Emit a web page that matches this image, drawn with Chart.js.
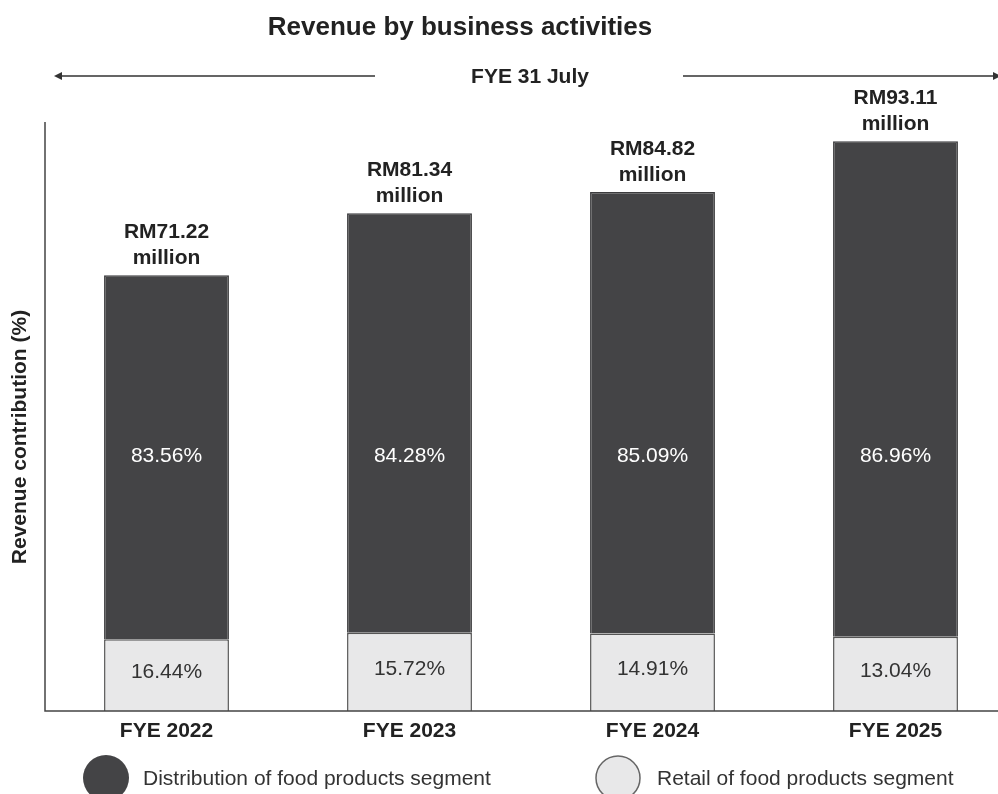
<!DOCTYPE html>
<html>
<head>
<meta charset="utf-8">
<title>Revenue by business activities</title>
<script src="https://cdn.jsdelivr.net/npm/chart.js@4.4.1/dist/chart.umd.min.js"></script>
<style>
  html, body { margin: 0; padding: 0; background: #fff; overflow: hidden; }
  #grafico { display: block; }
</style>
</head>
<body>
<canvas id="grafico" width="1030" height="794"></canvas>
<script>
// datos
const categorias = ["FYE 2022", "FYE 2023", "FYE 2024", "FYE 2025"];
const totales = [71.22, 81.34, 84.82, 93.11]; // RM million
const pctDistribucion = [83.56, 84.28, 85.09, 86.96];
const pctRetail = [16.44, 15.72, 14.91, 13.04];

const etiquetasTotal = ["RM71.22", "RM81.34", "RM84.82", "RM93.11"];

// valor en RM de cada segmento
const valRetail = totales.map((t, i) => t * pctRetail[i] / 100);
const valDistribucion = totales.map((t, i) => t * pctDistribucion[i] / 100);

const FUENTE = "'Liberation Sans', Arial, sans-serif";
const OSCURO = "#444446";
const CLARO = "#e8e8e9";

const extras = {
  id: "extras",
  afterDatasetsDraw(chart) {
    const { ctx, chartArea, scales } = chart;
    ctx.save();
    ctx.textAlign = "center";
    ctx.textBaseline = "middle";

    // titulo
    ctx.fillStyle = "#222";
    ctx.font = "bold 26px " + FUENTE;
    ctx.fillText("Revenue by business activities", 460, 28);

    // FYE 31 July con flechas
    ctx.font = "bold 21px " + FUENTE;
    ctx.fillText("FYE 31 July", 530, 77);
    ctx.strokeStyle = "#333";
    ctx.fillStyle = "#333";
    ctx.lineWidth = 1.5;
    ctx.beginPath();
    ctx.moveTo(58, 76); ctx.lineTo(375, 76);
    ctx.moveTo(683, 76); ctx.lineTo(994, 76);
    ctx.stroke();
    ctx.beginPath();
    ctx.moveTo(54, 76); ctx.lineTo(62, 72); ctx.lineTo(62, 80); ctx.closePath();
    ctx.fill();
    ctx.beginPath();
    ctx.moveTo(1001, 76); ctx.lineTo(993, 72); ctx.lineTo(993, 80); ctx.closePath();
    ctx.fill();

    // ejes
    ctx.strokeStyle = "#444";
    ctx.lineWidth = 1.5;
    ctx.beginPath();
    ctx.moveTo(chartArea.left, 122);
    ctx.lineTo(chartArea.left, chartArea.bottom);
    ctx.lineTo(1030, chartArea.bottom);
    ctx.stroke();

    // titulo eje y
    ctx.save();
    ctx.translate(20, 437);
    ctx.rotate(-Math.PI / 2);
    ctx.fillStyle = "#222";
    ctx.font = "bold 21px " + FUENTE;
    ctx.fillText("Revenue contribution (%)", 0, 0);
    ctx.restore();

    // etiquetas dentro de las barras
    const metaRetail = chart.getDatasetMeta(0);
    const metaDist = chart.getDatasetMeta(1);
    ctx.font = "21px " + FUENTE;
    metaRetail.data.forEach((bar, i) => {
      ctx.fillStyle = "#333";
      ctx.fillText(pctRetail[i].toFixed(2) + "%", bar.x, (bar.y + bar.base) / 2 - 3);
    });
    metaDist.data.forEach((bar, i) => {
      ctx.fillStyle = "#fff";
      ctx.fillText(pctDistribucion[i].toFixed(2) + "%", bar.x, 456);
      // total encima de la barra
      ctx.fillStyle = "#222";
      ctx.font = "bold 21px " + FUENTE;
      ctx.fillText(etiquetasTotal[i], bar.x, bar.y - 43);
      ctx.fillText("million", bar.x, bar.y - 17);
      ctx.font = "21px " + FUENTE;
    });

    // etiquetas eje x
    ctx.fillStyle = "#222";
    ctx.font = "bold 21px " + FUENTE;
    categorias.forEach((c, i) => {
      ctx.fillText(c, scales.x.getPixelForValue(i), 731);
    });

    // leyenda
    ctx.lineWidth = 1.5;
    ctx.strokeStyle = "#666";
    ctx.fillStyle = OSCURO;
    ctx.beginPath(); ctx.arc(106, 778, 23, 0, Math.PI * 2); ctx.fill();
    ctx.fillStyle = CLARO;
    ctx.beginPath(); ctx.arc(618, 778, 22, 0, Math.PI * 2); ctx.fill(); ctx.stroke();
    ctx.textAlign = "left";
    ctx.fillStyle = "#333";
    ctx.font = "21px " + FUENTE;
    ctx.fillText("Distribution of food products segment", 143, 779);
    ctx.fillText("Retail of food products segment", 657, 779);

    ctx.restore();
  }
};

new Chart(document.getElementById("grafico"), {
  type: "bar",
  data: {
    labels: categorias,
    datasets: [
      {
        label: "Retail of food products segment",
        data: valRetail,
        backgroundColor: CLARO,
        borderColor: "#555",
        borderWidth: 1.5,
        barPercentage: 0.514,
        categoryPercentage: 1,
      },
      {
        label: "Distribution of food products segment",
        data: valDistribucion,
        backgroundColor: OSCURO,
        borderColor: "#3c3c3e",
        borderWidth: 1.5,
        barPercentage: 0.514,
        categoryPercentage: 1,
      },
    ],
  },
  options: {
    responsive: false,
    animation: false,
    layout: { padding: { left: 45, right: 13, top: 123.5, bottom: 83 } },
    plugins: {
      legend: { display: false },
      tooltip: { enabled: false },
    },
    scales: {
      x: { stacked: true, display: false },
      y: { stacked: true, display: false, min: 0, max: 96 },
    },
  },
  plugins: [extras],
});
</script>
</body>
</html>
